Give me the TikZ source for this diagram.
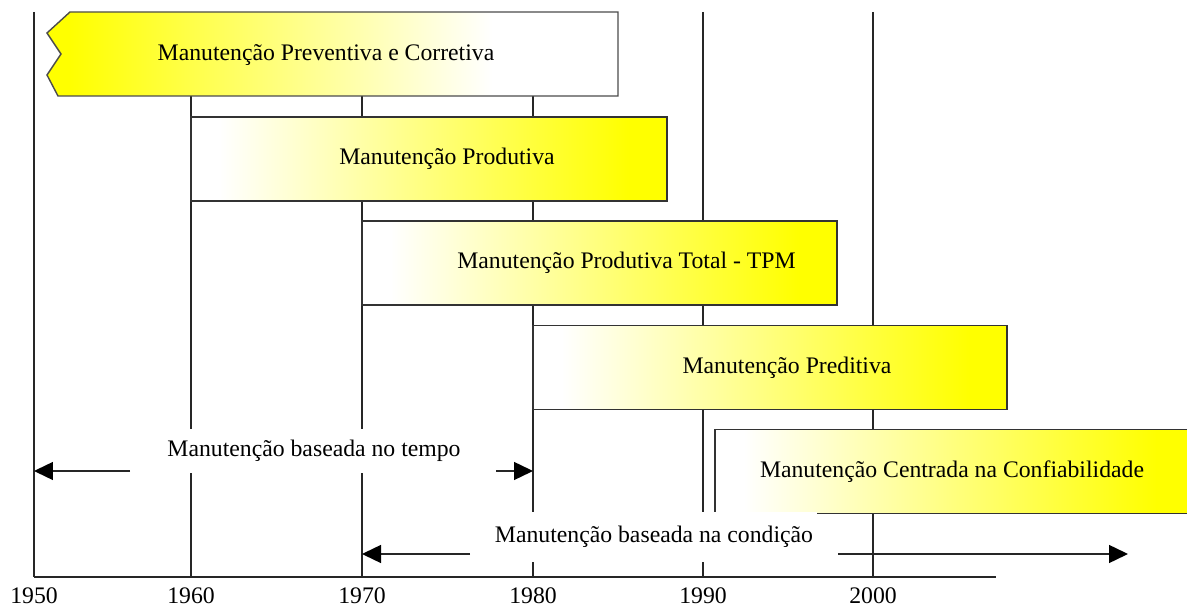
\documentclass[tikz,border=0pt]{standalone}
\usepackage{fontspec}
\setmainfont{Liberation Serif}
\usetikzlibrary{calc,arrows.meta}
\pgfdeclarehorizontalshading{toyellow}{100bp}{color(0bp)=(white); color(28bp)=(white); color(71bp)=(yellow); color(100bp)=(yellow)}
\pgfdeclarehorizontalshading{fromyellow}{100bp}{color(0bp)=(yellow); color(27bp)=(yellow); color(64bp)=(white); color(100bp)=(white)}

\begin{document}
\begin{tikzpicture}[x=0.02cm, y=-0.02cm,
    font=\fontsize{13.5}{16}\selectfont,
    era/.style={rectangle, draw=black!80, line width=0.8pt, shading=toyellow, minimum height=1.68cm, inner sep=0pt},
    grid/.style={draw=black!85, line width=0.8pt},
    tag/.style={fill=white, inner xsep=2pt},
    span/.style={black!85, line width=0.8pt, -{Triangle[length=0.38cm, width=0.36cm, color=black]}}]
    \useasboundingbox (0,0) rectangle (1187,607);

    \foreach \yr/\x in {1950/34, 1960/191, 1970/362, 1980/533, 1990/703, 2000/873} {
        \coordinate (T\yr) at (\x,12);
        \coordinate (B\yr) at (\x,577);
        \draw[grid] (T\yr) -- (B\yr);
        \node (Y\yr) at (\x,596) {\yr};
    }
    \coordinate (axisend) at (996,577);
    \draw[grid] (B1950) -- (axisend);

    \draw[draw=black!70, line width=0.8pt, shading=fromyellow]
        (70,12) -- (618,12) -- (618,96) -- (58,96) -- (47,75) -- (61,54) -- (47,33) -- cycle;
    \node (MPC) at (326,55) {Manutenção Preventiva e Corretiva};

    \node (MP) at (429,159) [era, minimum width=9.52cm] {};
    \node at ($(MP) + (18, 0)$) {Manutenção Produtiva};

    \node (TPM) at (599.5,263) [era, minimum width=9.5cm] {};
    \node at ($(TPM) + (27, 0)$) {Manutenção Produtiva Total - TPM};

    \node (MPd) at (770,367.5) [era, minimum width=9.48cm] {};
    \node at ($(MPd) + (17, 0)$) {Manutenção Preditiva};

    \node (MCC) at (955,471.5) [era, minimum width=9.6cm] {};
    \node at ($(MCC) + (-3, 0)$) {Manutenção Centrada na Confiabilidade};

    \node (tempo) at (314,451) [tag, minimum height=0.9cm] {Manutenção baseada no tempo};
    \coordinate (t1) at (130,471);
    \coordinate (t2) at (496,471);
    \draw[span] (t1) -- (B1950 |- t1);
    \draw[span] (t2) -- (B1980 |- t2);

    \node (cond) at (654,537) [tag, minimum height=1cm] {Manutenção baseada na condição};
    \coordinate (c1) at (470,554);
    \coordinate (c2) at (838,554);
    \coordinate (c3) at (1128,554);
    \draw[span] (c1) -- (B1970 |- c1);
    \draw[span] (c2) -- (c3);
\end{tikzpicture}
\end{document}
